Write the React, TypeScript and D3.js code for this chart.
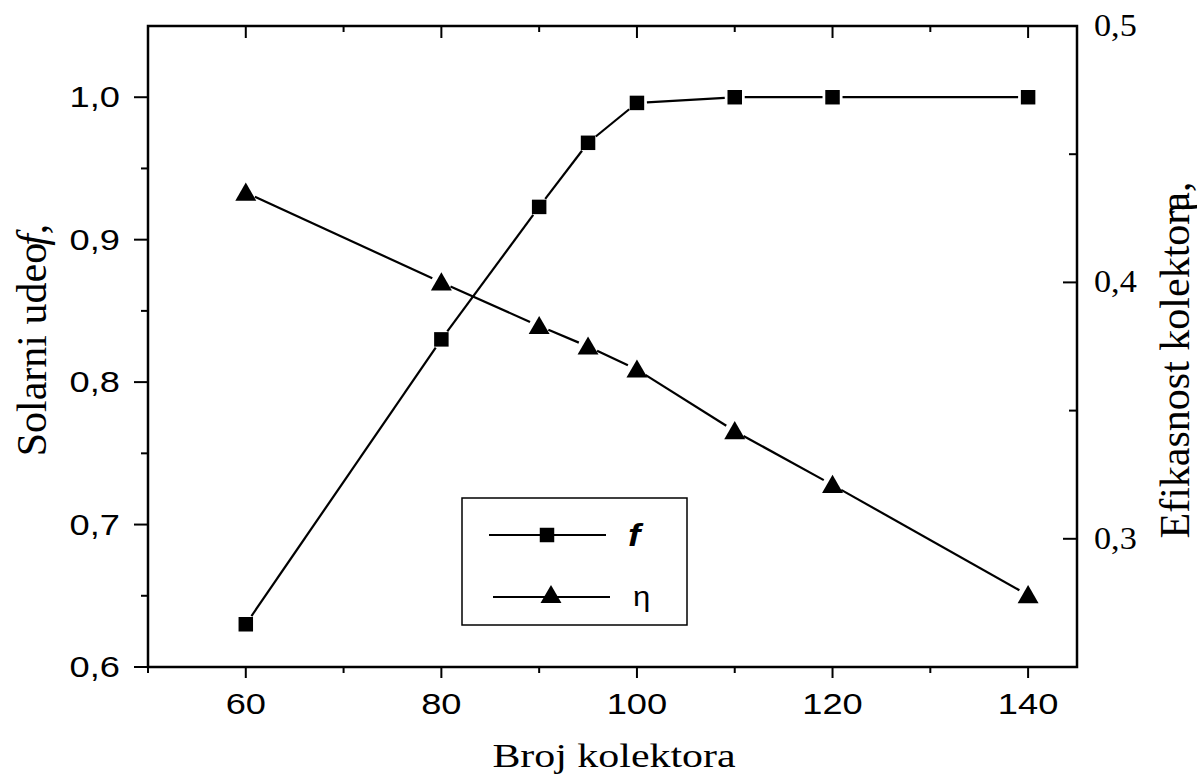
import {useEffect} from 'react'
import {scaleLinear, range, symbol, symbolSquare, symbolTriangle} from 'd3'

// number of collectors
const collectors = [60, 80, 90, 95, 100, 110, 120, 140]
// solar fraction f (left axis)
const solarFraction = [0.63, 0.83, 0.923, 0.968, 0.996, 1.0, 1.0, 1.0]
// collector efficiency eta (right axis)
const efficiency = [0.435, 0.4, 0.383, 0.375, 0.366, 0.342, 0.321, 0.278]

const xTicks = [60, 80, 100, 120, 140]
const leftTicks = [0.6, 0.7, 0.8, 0.9, 1.0]
const rightTicks = [0.3, 0.4, 0.5]

const W = 1197
const H = 781
const L = 148, R = 1077, T = 26, B = 667

const fmt = (v: number) => v.toFixed(1).replace('.', ',')

const App = () => {
  useEffect(() => {
    document.body.style.margin = '0'
  }, [])

  const x = scaleLinear().domain([50, 145]).range([L, R])
  const yL = scaleLinear().domain([0.6, 1.05]).range([B, T])
  const yR = scaleLinear().domain([0.25, 0.5]).range([B, T])

  const minorX = range(50, 146, 10)
  const minorL = range(0.65, 1.05, 0.1)
  const minorR = [0.25, 0.35, 0.45]

  // segments with a small gap near the markers (Origin style)
  const segments = (ys: number[], yScale: any, key: string) => {
    const gap = 10
    const out = []
    for (let i = 0; i < collectors.length - 1; i++) {
      const x1 = x(collectors[i]), y1 = yScale(ys[i])
      const x2 = x(collectors[i + 1]), y2 = yScale(ys[i + 1])
      const len = Math.hypot(x2 - x1, y2 - y1)
      if (len <= 2 * gap) continue
      const ux = (x2 - x1) / len, uy = (y2 - y1) / len
      out.push(<line key={key + i} x1={x1 + ux * gap} y1={y1 + uy * gap} x2={x2 - ux * gap} y2={y2 - uy * gap}
        stroke="#000" strokeWidth={2.2} />)
    }
    return out
  }

  const sq = symbol().type(symbolSquare).size(210)()
  const tri = symbol().type(symbolTriangle).size(190)()

  const sans = 'Liberation Sans, Arial, sans-serif'
  const serif = 'Liberation Serif, Times New Roman, serif'
  const sx = 1.25 // the sans labels are drawn a bit wide

  return (
    <svg width={W} height={H} viewBox={`0 0 ${W} ${H}`} style={{display: 'block', background: '#fff'}}>
      {/* frame */}
      <rect x={L} y={T} width={R - L} height={B - T} fill="none" stroke="#000" strokeWidth={2.5} />

      {/* bottom + top ticks */}
      {minorX.map(v => {
        const major = xTicks.includes(v)
        return <g key={'bx' + v}>
          <line x1={x(v)} x2={x(v)} y1={B} y2={B + (major ? 11 : 6)} stroke="#000" strokeWidth={2} />
          <line x1={x(v)} x2={x(v)} y1={T} y2={T + (major ? 12 : 6)} stroke="#000" strokeWidth={2} />
        </g>
      })}
      {xTicks.map(v => (
        <g key={'xl' + v} transform={`translate(${x(v)},${B + 47}) scale(${sx},1)`}>
          <text textAnchor="middle" fontFamily={sans} fontSize={29}>{v}</text>
        </g>
      ))}

      {/* left axis: outward ticks */}
      {leftTicks.map(v => (
        <g key={'ly' + v}>
          <line x1={L - 14} x2={L} y1={yL(v)} y2={yL(v)} stroke="#000" strokeWidth={2} />
          <g transform={`translate(${L - 28},${yL(v) + 10}) scale(${sx},1)`}>
            <text textAnchor="end" fontFamily={sans} fontSize={29}>{fmt(v)}</text>
          </g>
        </g>
      ))}
      {minorL.map(v => (
        <line key={'lm' + v} x1={L - 7} x2={L} y1={yL(v)} y2={yL(v)} stroke="#000" strokeWidth={2} />
      ))}

      {/* right axis: inward ticks */}
      {rightTicks.map(v => (
        <g key={'ry' + v}>
          <line x1={R - 14} x2={R} y1={yR(v)} y2={yR(v)} stroke="#000" strokeWidth={2} />
          <g transform={`translate(${R + 17},${yR(v) + 10}) scale(1.07,1)`}>
            <text fontFamily={serif} fontSize={32}>{fmt(v)}</text>
          </g>
        </g>
      ))}
      {minorR.map(v => (
        <line key={'rm' + v} x1={R - 8} x2={R} y1={yR(v)} y2={yR(v)} stroke="#000" strokeWidth={2} />
      ))}

      {/* series */}
      {segments(solarFraction, yL, 'f')}
      {segments(efficiency, yR, 'e')}
      {collectors.map((c, i) => (
        <path key={'sq' + c} d={sq} transform={`translate(${x(c)},${yL(solarFraction[i])})`} fill="#000" />
      ))}
      {collectors.map((c, i) => (
        <path key={'tr' + c} d={tri} transform={`translate(${x(c)},${yR(efficiency[i]) + 2})`} fill="#000" />
      ))}

      {/* legend */}
      <rect x={462} y={498} width={225} height={127} fill="#fff" stroke="#000" strokeWidth={1.5} />
      <line x1={489} x2={606} y1={535} y2={535} stroke="#000" strokeWidth={2.2} />
      <path d={sq} transform="translate(547,535)" fill="#000" />
      <g transform="translate(628,546) scale(1.2,1)">
        <text fontFamily={sans} fontSize={31} fontStyle="italic" fontWeight="bold">f</text>
      </g>
      <line x1={493} x2={610} y1={597} y2={597} stroke="#000" strokeWidth={2.2} />
      <path d={tri} transform="translate(551,597)" fill="#000" />
      <g transform="translate(633,606) scale(1.15,1)">
        <text fontFamily={sans} fontSize={27}>η</text>
      </g>

      {/* axis titles */}
      <g transform={`translate(614,767) scale(1.27,1)`}>
        <text textAnchor="middle" fontFamily={serif} fontSize={33}>Broj kolektora</text>
      </g>
      <text transform={`translate(46,${340}) rotate(-90)`} textAnchor="middle" fontFamily={serif} fontSize={42}>
        Solarni udeo<tspan fontStyle="italic" dx={-3}>f</tspan>,
      </text>
      <text transform={`translate(1189,${360}) rotate(-90)`} textAnchor="middle" fontFamily={serif} fontSize={42}>
        Efikasnost kolektora,<tspan dx={-43}>η</tspan>
      </text>
    </svg>
  )
}

export default App
